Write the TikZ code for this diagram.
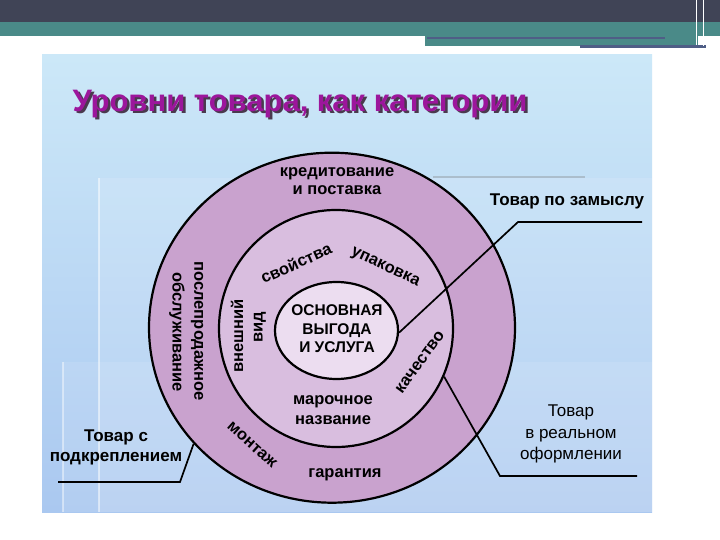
\documentclass[tikz,border=0pt]{standalone}
\usepackage{fontspec}
\setmainfont{Liberation Sans}
\usetikzlibrary{shapes.geometric}
\definecolor{topdark}{HTML}{404456}
\definecolor{tealband}{HTML}{4A8A88}
\definecolor{bluegray}{HTML}{4F5E86}
\definecolor{panelTop}{HTML}{CCE8F8}
\definecolor{panelBot}{HTML}{AAC8F0}
\definecolor{ringOuter}{HTML}{C9A2CE}
\definecolor{ringMid}{HTML}{D9BEDF}
\definecolor{ringIn}{HTML}{ECDDF0}
\definecolor{titlecol}{HTML}{9C169C}
\definecolor{shadowcol}{HTML}{4A3A4E}
\begin{document}
\begin{tikzpicture}[x=1pt,y=-1pt,
  ring/.style={ellipse, draw=black, line width=2.2pt, inner sep=0pt},
  conn/.style={draw=black, line width=1.7pt},
  lbl/.style={font=\fontsize{16.5}{18.5}\selectfont\bfseries, inner sep=0pt, align=center},
  corelbl/.style={font=\fontsize{15.5}{18.5}\selectfont\bfseries, inner sep=0pt, align=center},
  outlbl/.style={font=\fontsize{17}{20}\selectfont\bfseries, inner sep=0pt, align=center},
  titlestyle/.style={font=\fontsize{31}{34}\selectfont\bfseries, inner sep=0pt}]
\useasboundingbox (0,0) rectangle (720,540);
\fill[white] (0,0) rectangle (720,540);
% header bands
\fill[topdark] (0,0) rectangle (720,22);
\fill[tealband] (0,22) rectangle (720,36);
\fill[tealband] (425,36) rectangle (698,46);
\draw[bluegray, line width=2pt] (427,38.5) -- (665,38.5);
\draw[bluegray, line width=2.5pt] (580,46.5) -- (706,46.5);
\draw[white, line width=0.8pt] (696,0) -- (696,45);
\draw[white, line width=0.8pt] (703,0) -- (703,46);
% panel
\shade[top color=panelTop, bottom color=panelBot] (42,55) rectangle (652,512);
\fill[white, opacity=0.12] (99,178) rectangle (652,512);
\draw[white, opacity=0.5, line width=1.2pt] (99,178) -- (99,512);
\draw[gray, opacity=0.35, line width=1.5pt] (433,177) -- (585,177);
\fill[white, opacity=0.10] (63,362) rectangle (652,512);
\draw[white, opacity=0.45, line width=1.2pt] (63,362) -- (63,512);
% title
\node[titlestyle, text=shadowcol] at (302.5,106.5) {Уровни товара, как категории};
\node[titlestyle, text=titlecol] (title) at (300,104) {Уровни товара, как категории};
% rings
\node[ring, fill=ringOuter, minimum width=366pt, minimum height=350pt] (outer) at (332,327.7) {};
\node[ring, fill=ringMid, minimum width=234pt, minimum height=237pt] (middle) at (336,328.5) {};
\node[ring, fill=ringIn, minimum width=123pt, minimum height=97pt] (inner) at (336.5,330.5) {};
% connectors
\coordinate (c1a) at (518,222);
\coordinate (c1b) at (642,222);
\coordinate (c2a) at (500,476);
\coordinate (c2b) at (637,476);
\coordinate (c3a) at (180,482);
\coordinate (c3b) at (58,482);
\draw[conn] (inner.-2.5) -- (c1a) -- (c1b);
\draw[conn] (middle.-24.6) -- (c2a) -- (c2b);
\draw[conn] (outer.220) -- (c3a) -- (c3b);
% inner texts
\node[corelbl] (core) at (337,329) {ОСНОВНАЯ\\ВЫГОДА\\И УСЛУГА};
\node[lbl] (credit) at (337,181) {кредитование\\и поставка};
\node[lbl, rotate=24] (svoistva) at (296,263) {свойства};
\node[lbl, rotate=-25] (upak) at (385,268) {упаковка};
\node[lbl, rotate=90] (vnesh) at (237,336) {внешний};
\node[lbl, rotate=90] (vid) at (260,327) {вид};
\node[lbl, rotate=-90] (posle) at (197,331) {послепродажное};
\node[lbl, rotate=-90] (obsl) at (177,332) {обслуживание};
\node[lbl, rotate=54] (kach) at (420,362) {качество};
\node[lbl, font=\fontsize{16.5}{20}\selectfont\bfseries] (marka) at (333,410) {марочное\\название};
\node[lbl, rotate=-42] (montazh) at (252,445) {монтаж};
\node[lbl] (garant) at (345,475) {гарантия};
% outer labels
\node[outlbl] (zamysel) at (567,201) {Товар по замыслу};
\node[outlbl, font=\fontsize{17}{21.5}\selectfont] (real) at (571,434) {Товар\\в реальном\\оформлении};
\node[outlbl] (podkr) at (116,447) {Товар с\\подкреплением};
\end{tikzpicture}
\end{document}
